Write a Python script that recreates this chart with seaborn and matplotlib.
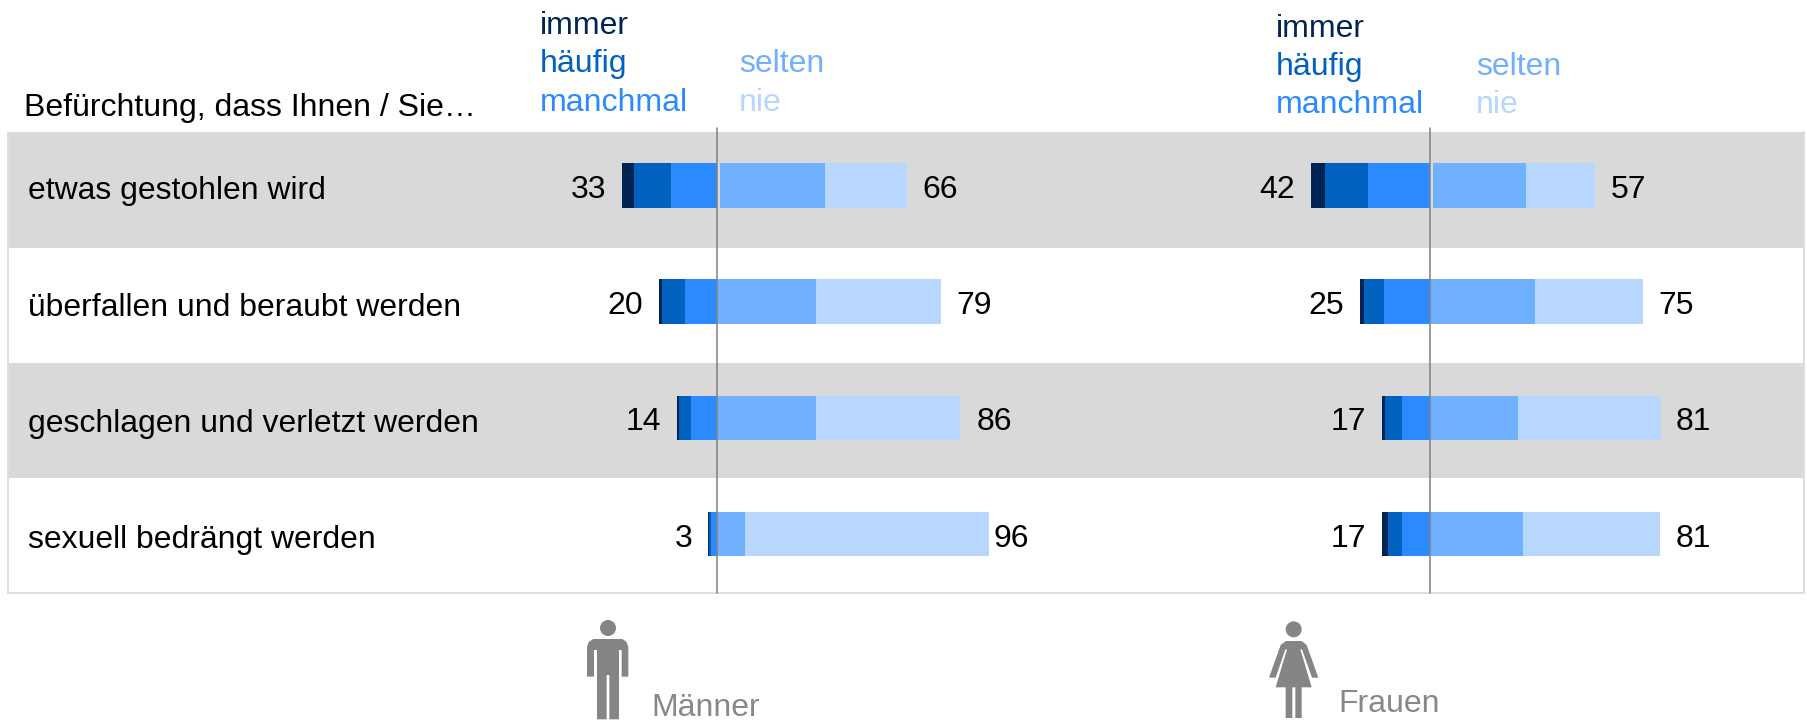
import numpy as np
import pandas as pd
import matplotlib
matplotlib.use("Agg")
import matplotlib.pyplot as plt
from matplotlib.patches import Circle, Polygon
import seaborn as sns

categories = ["etwas gestohlen wird", "überfallen und beraubt werden",
              "geschlagen und verletzt werden", "sexuell bedrängt werden"]
series_names = ["immer", "häufig", "manchmal", "selten", "nie"]
colors = ["#002554", "#0061BF", "#2B8AFF", "#6FB0FF", "#B7D7FF"]

men_immer = [4.0, 1.0, 0.7, 0.2]
men_haeufig = [13.0, 7.8, 4.2, 0.8]
men_manchmal = [16.0, 11.2, 9.0, 2.0]
men_gap = [1.1, 0.0, 0.0, 0.0]
men_selten = [36.6, 34.7, 34.7, 9.9]
men_nie = [28.7, 43.7, 50.5, 85.3]
men_neg_labels = ["33", "20", "14", "3"]
men_pos_labels = ["66", "79", "86", "96"]

women_immer = [4.9, 1.7, 1.0, 2.1]
women_haeufig = [14.8, 7.0, 5.9, 4.9]
women_manchmal = [21.9, 16.0, 9.9, 9.9]
women_gap = [1.0, 0.0, 0.0, 0.0]
women_selten = [32.6, 36.7, 30.8, 32.6]
women_nie = [24.0, 37.8, 49.8, 47.9]
women_neg_labels = ["42", "25", "17", "17"]
women_pos_labels = ["57", "75", "81", "81"]

sns.set_theme(style="white")
plt.rcParams["font.family"] = ["Liberation Sans", "DejaVu Sans"]

W, H = 1808, 720
PX_PER_UNIT = 2.86
ROW0, PITCH = 185.5, 116.2
FS = 32 * 0.72
GREY = "#808080"

fig = plt.figure(figsize=(W / 100, H / 100), dpi=100, facecolor="white")

# background bands
bg = fig.add_axes([0, 0, 1, 1], zorder=0)
bg.set_xlim(0, W)
bg.set_ylim(H, 0)
bg.axis("off")
for top, bottom in [(132, 248), (363, 478)]:
    bg.axhspan(top, bottom, xmin=8 / W, xmax=1804.5 / W, color="#D9D9D9", lw=0)
bg.plot([8, 8, 1804.5, 1804.5], [132, 593, 593, 132], color="#DEDEDE", lw=1.4, solid_joinstyle="miter")


def panel(x0_px, x1_px, zero_px, neg, pos, neg_labels, pos_labels, pos_pads):
    ax = fig.add_axes([x0_px / W, 0, (x1_px - x0_px) / W, 1], zorder=1)
    ax.patch.set_alpha(0)
    immer, haeufig, manchmal = [np.array(v, float) for v in neg]
    gap, selten, nie = [np.array(v, float) for v in pos]
    starts = [-(immer + haeufig + manchmal), -(haeufig + manchmal), -manchmal, gap, gap + selten]
    widths = [immer, haeufig, manchmal, selten, nie]
    for start, width, color in zip(starts, widths, colors):
        frame = pd.DataFrame({"Anteil": width, "Kategorie": categories})
        sns.barplot(data=frame, x="Anteil", y="Kategorie", left=start, color=color, saturation=1,
                    width=0.385, linewidth=0, errorbar=None, orient="h", ax=ax)
    ax.set_xlim((x0_px - zero_px) / PX_PER_UNIT, (x1_px - zero_px) / PX_PER_UNIT)
    ax.set_ylim((H - ROW0) / PITCH, -ROW0 / PITCH)
    ax.axis("off")
    ax.axvline(0, ymin=1 - 593 / H, ymax=1 - 128 / H, color=GREY, lw=1.1, zorder=5)
    for i in range(len(categories)):
        ax.annotate(neg_labels[i], (starts[0][i], i), xytext=(-16 * 0.72, -12.5 * 0.72),
                    textcoords="offset points", ha="right", va="baseline", fontsize=FS, color="black")
        ax.annotate(pos_labels[i], ((starts[4] + nie)[i], i), xytext=(pos_pads[i] * 0.72, -12.5 * 0.72),
                    textcoords="offset points", ha="left", va="baseline", fontsize=FS, color="black")
    return ax


panel(8, 1100, 716.7, (men_immer, men_haeufig, men_manchmal), (men_gap, men_selten, men_nie),
      men_neg_labels, men_pos_labels, [15.5, 15, 16, 5])
panel(1100, W, 1430.2, (women_immer, women_haeufig, women_manchmal), (women_gap, women_selten, women_nie),
      women_neg_labels, women_pos_labels, [16, 15, 15, 15])

# texts and pictograms
ov = fig.add_axes([0, 0, 1, 1], zorder=2)
ov.patch.set_alpha(0)
ov.set_xlim(0, W)
ov.set_ylim(H, 0)
ov.axis("off")


def label(x, y, s, color="black", fs=FS):
    ov.text(x, y, s, ha="left", va="baseline", fontsize=fs, color=color)


label(24, 116, "Befürchtung, dass Ihnen / Sie…")
for i, c in enumerate(categories):
    label(28, ROW0 + PITCH * i + 14, c, fs=FS * 0.995)

for xl, xr, ys in [(540, 739, (34, 72, 111)), (1276, 1476, (37, 75, 113))]:
    label(xl, ys[0], series_names[0], colors[0])
    label(xl, ys[1], series_names[1], colors[1])
    label(xl, ys[2], series_names[2], colors[2])
    label(xr, ys[1], series_names[3], colors[3])
    label(xr, ys[2], series_names[4], colors[4])

label(651, 716, "Männer", "#888888")
label(1338, 712, "Frauen", "#888888")

ICON = "#858585"


def pts(x0, y0, zoomed):
    return [(x0 + a / 3, y0 + b / 3) for a, b in zoomed]


ov.add_patch(Circle((608, 628), 8, color=ICON, lw=0))
ov.add_patch(Polygon(pts(540, 350, [
    (141, 980), (141, 890), (147, 875), (160, 867), (247, 867), (259, 875), (265, 890), (265, 980),
    (245, 980), (245, 900), (237, 900), (237, 1108), (208, 1108), (208, 975), (200, 975), (200, 1108),
    (171, 1108), (171, 900), (162, 900), (162, 980)]), closed=True, color=ICON, lw=0))

ov.add_patch(Circle((1250 + 131 / 3, 350 + 838 / 3), 8, color=ICON, lw=0))
ov.add_patch(Polygon(pts(1250, 350, [
    (57, 983), (92, 885), (108, 873), (155, 873), (170, 885), (205, 983), (185, 983), (152, 900),
    (185, 1012), (155, 1012), (155, 1104), (136, 1104), (136, 1012), (127, 1012), (127, 1104),
    (107, 1104), (107, 1012), (77, 1012), (110, 900), (80, 983)]), closed=True, color=ICON, lw=0))
ov.plot(*zip(*pts(1250, 350, [(108, 900), (79, 985)])), color="white", lw=1.2)
ov.plot(*zip(*pts(1250, 350, [(154, 900), (184, 985)])), color="white", lw=1.2)

fig.savefig("out.png", dpi=100, facecolor="white")
